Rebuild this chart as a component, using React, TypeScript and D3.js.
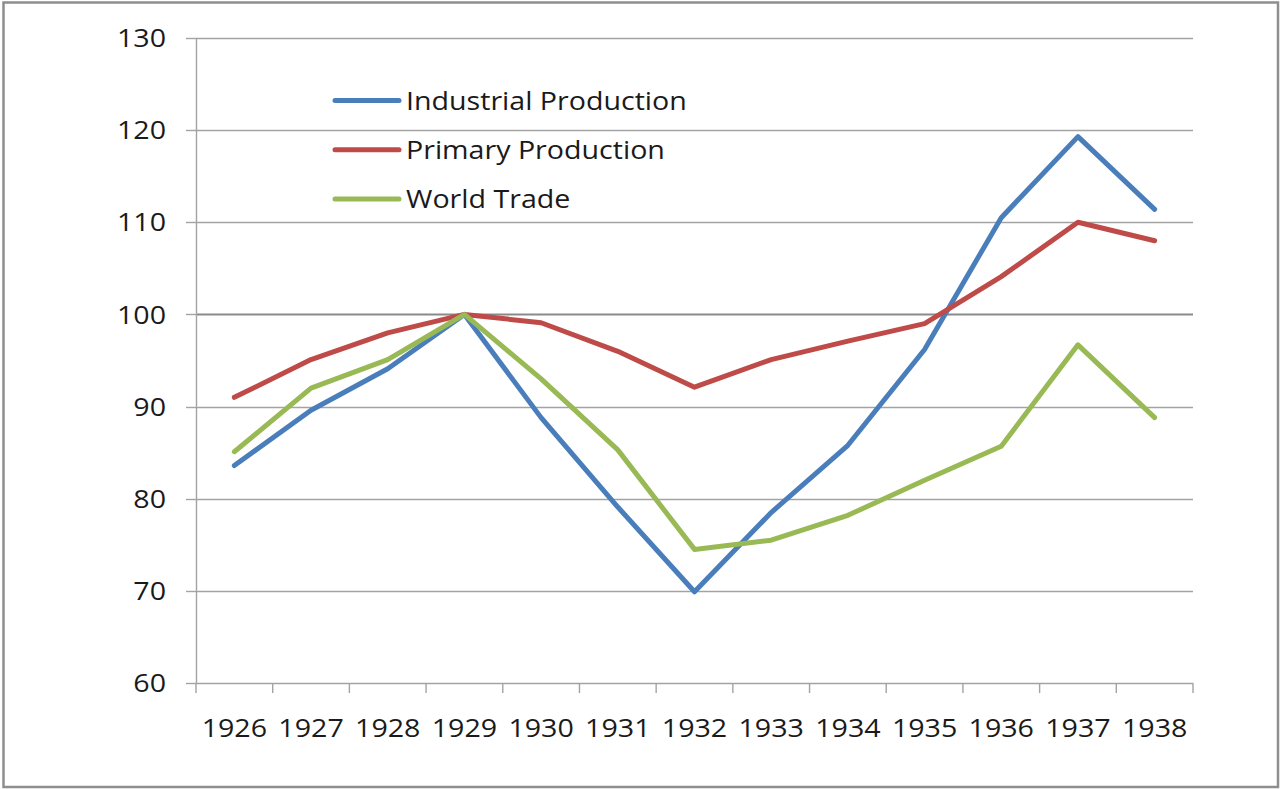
import React, { useEffect, useRef } from 'react';
import * as d3 from 'd3';

const years = ['1926', '1927', '1928', '1929', '1930', '1931', '1932', '1933', '1934', '1935', '1936', '1937', '1938'];
const industrial = [83.6, 89.6, 94.1, 100, 88.8, 79.1, 69.9, 78.5, 85.8, 96.2, 110.5, 119.3, 111.4];
const primary = [91.0, 95.1, 98.0, 100, 99.1, 96.0, 92.1, 95.1, 97.1, 99.0, 104.1, 110.0, 108.0];
const worldTrade = [85.1, 92.0, 95.1, 100, 93.0, 85.3, 74.5, 75.5, 78.2, 82.0, 85.7, 96.7, 88.8];
const yTicks = [60, 70, 80, 90, 100, 110, 120, 130];

const seriesNames = ['Industrial Production', 'Primary Production', 'World Trade'];
const seriesColors = ['#4a7ebb', '#be4b48', '#98b954'];

const W = 1281;
const H = 789;

const App = () => {
  const svgRef = useRef<SVGSVGElement>(null);

  useEffect(() => {
    const svg = d3.select(svgRef.current);
    svg.selectAll('*').remove();

    const font = '"Open Sans", sans-serif';
    const fs = 26;
    const stretch = 1.1; // glyphs in the picture are a bit wider than normal

    const x = d3.scaleBand().domain(years).range([196, 1193]).padding(0);
    const y = d3.scaleLinear().domain([60, 130]).range([683, 38]);

    // outer frame
    svg.append('rect')
      .attr('x', 3.5).attr('y', 2.5)
      .attr('width', W - 6.5).attr('height', H - 4.5)
      .attr('fill', 'white')
      .attr('stroke', '#8e8e8e')
      .attr('stroke-width', 2.5);

    // horizontal gridlines + y ticks
    yTicks.forEach(t => {
      const yy = Math.round(y(t)) + 0.5;
      if (t > 60) {
        svg.append('line')
          .attr('x1', 196).attr('x2', 1193)
          .attr('y1', yy).attr('y2', yy)
          .attr('stroke', t === 100 ? '#8a8a8a' : '#a3a3a3')
          .attr('stroke-width', t === 100 ? 2.2 : 1.4);
      }
      svg.append('line')
        .attr('x1', 186).attr('x2', 196)
        .attr('y1', yy).attr('y2', yy)
        .attr('stroke', '#a3a3a3').attr('stroke-width', 1.4);
      svg.append('text')
        .attr('transform', `translate(166, ${y(t)}) scale(${stretch},1)`)
        .attr('dy', '0.35em')
        .attr('text-anchor', 'end')
        .style('font-family', font)
        .style('font-size', fs + 'px')
        .attr('fill', '#1a1a1a')
        .text(t);
    });

    // axes
    svg.append('line')
      .attr('x1', 196.5).attr('x2', 196.5)
      .attr('y1', y(130)).attr('y2', y(60))
      .attr('stroke', '#a3a3a3').attr('stroke-width', 1.4);
    svg.append('line')
      .attr('x1', 196).attr('x2', 1193)
      .attr('y1', y(60) + 0.5).attr('y2', y(60) + 0.5)
      .attr('stroke', '#a3a3a3').attr('stroke-width', 1.4);

    // x ticks at band edges
    const edges = years.map(d => x(d)!).concat([x(years[years.length - 1])! + x.bandwidth()]);
    edges.forEach(e => {
      svg.append('line')
        .attr('x1', e).attr('x2', e)
        .attr('y1', y(60)).attr('y2', y(60) + 10)
        .attr('stroke', '#a3a3a3').attr('stroke-width', 1.4);
    });

    years.forEach(d => {
      svg.append('text')
        .attr('transform', `translate(${x(d)! + x.bandwidth() / 2}, 737) scale(${stretch},1)`)
        .attr('text-anchor', 'middle')
        .style('font-family', font)
        .style('font-size', fs + 'px')
        .attr('fill', '#1a1a1a')
        .text(d);
    });

    // data lines
    const line = d3.line<number>()
      .x((_, i) => x(years[i])! + x.bandwidth() / 2)
      .y(v => y(v));

    [industrial, primary, worldTrade].forEach((vals, i) => {
      svg.append('path')
        .attr('d', line(vals))
        .attr('fill', 'none')
        .attr('stroke', seriesColors[i])
        .attr('stroke-width', 5)
        .attr('stroke-linejoin', 'round')
        .attr('stroke-linecap', 'round');
    });

    // legend
    seriesNames.forEach((name, i) => {
      const ly = 100.5 + i * 49.3;
      svg.append('line')
        .attr('x1', 335).attr('x2', 399)
        .attr('y1', ly).attr('y2', ly)
        .attr('stroke', seriesColors[i])
        .attr('stroke-width', 5)
        .attr('stroke-linecap', 'round');
      svg.append('text')
        .attr('transform', `translate(406, ${ly}) scale(${stretch},1)`)
        .attr('dy', '0.35em')
        .style('font-family', font)
        .style('font-size', fs + 'px')
        .attr('fill', '#1a1a1a')
        .text(name);
    });
  }, []);

  return (
    <div style={{ position: 'absolute', left: 0, top: 0 }}>
      <svg ref={svgRef} width={W} height={H} style={{ display: 'block' }} />
    </div>
  );
};

export default App;
